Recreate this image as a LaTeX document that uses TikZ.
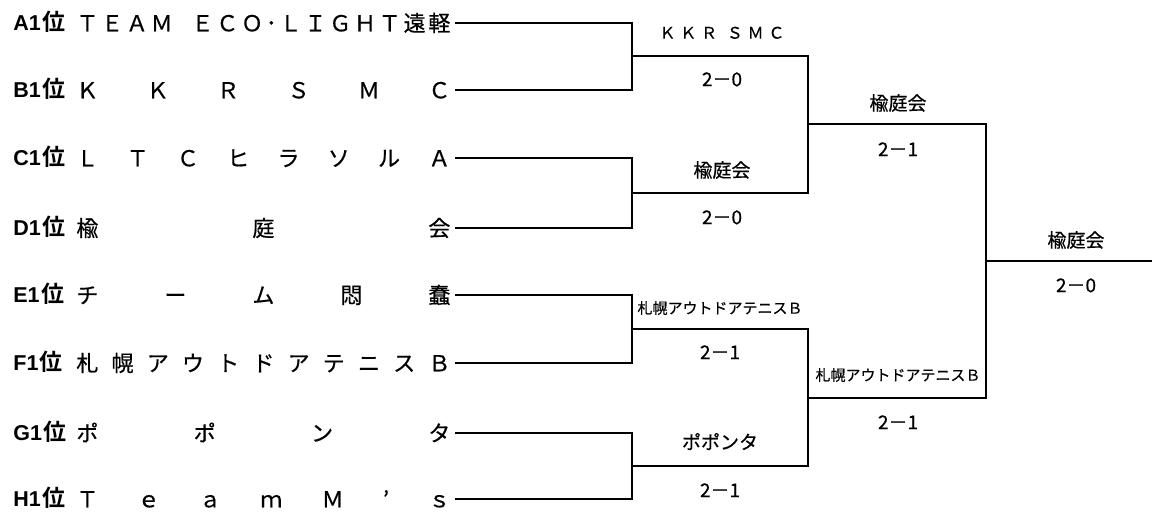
\documentclass[tikz,border=0pt]{standalone}
\usepackage{fontspec}
\newfontfamily\jp{Noto Sans CJK JP}[FakeBold=0.5]
\newfontfamily\jpb{Noto Sans CJK JP Bold}
\newfontfamily\lat{Liberation Sans}
\newcommand{\tname}[1]{\makebox[374pt][s]{#1}}
\newcommand{\seedlbl}[1]{{\lat\bfseries\fontsize{21.5}{26}\selectfont #1}\hspace{1.5pt}{\fontsize{23}{27}\selectfont 位}}

\begin{document}
\begin{tikzpicture}
	[x=1pt, y=-1pt, line width=2.8pt,
	 seed/.style = {anchor=west, inner sep=0pt, font=\jpb\fontsize{20}{24}\selectfont, text height=17.6pt, text depth=2.4pt},
	 team/.style = {anchor=west, inner xsep=3pt, inner ysep=0pt, font=\jp\fontsize{22}{26}\selectfont, text height=19.3pt, text depth=2.7pt},
	 res/.style = {inner sep=0pt, font=\jp\fontsize{19}{23}\selectfont, text height=16.7pt, text depth=2.3pt},
	 ressmall/.style = {inner sep=0pt, font=\jp\fontsize{15}{18}\selectfont, text height=13.2pt, text depth=1.8pt}]
	\useasboundingbox (0,0) rectangle (1152,513);
	% seeds
	\node[seed] (sa) at (12,23) {\seedlbl{A1}};
	\node[seed] (sb) at (12,90) {\seedlbl{B1}};
	\node[seed] (sc) at (12,158) {\seedlbl{C1}};
	\node[seed] (sd) at (12,228) {\seedlbl{D1}};
	\node[seed] (se) at (12,295) {\seedlbl{E1}};
	\node[seed] (sf) at (12,363) {\seedlbl{F1}};
	\node[seed] (sg) at (12,433) {\seedlbl{G1}};
	\node[seed] (sh) at (12,499) {\seedlbl{H1}};
	% teams
	\node[team] (a) at (72,23) {\tname{Ｔ\hfill Ｅ\hfill Ａ\hfill Ｍ\hspace{16pt}\hfill Ｅ\hfill Ｃ\hfill Ｏ\hfill ･\hfill Ｌ\hfill Ｉ\hfill Ｇ\hfill Ｈ\hfill Ｔ\hfill 遠\hfill 軽}};
	\node[team] (b) at (72,90) {\tname{Ｋ\hfill Ｋ\hfill Ｒ\hfill Ｓ\hfill Ｍ\hfill Ｃ}};
	\node[team] (c) at (72,158) {\tname{Ｌ\hfill Ｔ\hfill Ｃ\hfill ヒ\hfill ラ\hfill ソ\hfill ル\hfill Ａ}};
	\node[team] (d) at (72,228) {\tname{楡\hfill 庭\hfill 会}};
	\node[team] (e) at (72,295) {\tname{チ\hfill ー\hfill ム\hfill 悶\hfill 蠢}};
	\node[team] (f) at (72,363) {\tname{札\hfill 幌\hfill ア\hfill ウ\hfill ト\hfill ド\hfill ア\hfill テ\hfill ニ\hfill ス\hfill Ｂ}};
	\node[team] (g) at (72,433) {\tname{ポ\hfill ポ\hfill ン\hfill タ}};
	\node[team] (h) at (72,499) {\tname{Ｔ\hfill ｅ\hfill ａ\hfill ｍ\hfill Ｍ\hfill ’\hfill ｓ}};
	% junctions
	\coordinate (ab) at (632,56);
	\coordinate (cd) at (632,193);
	\coordinate (ef) at (632,329);
	\coordinate (gh) at (632,466);
	\coordinate (abcd) at (808,124);
	\coordinate (efgh) at (808,398);
	\coordinate (fin) at (986,261);
	\coordinate (champ) at (1152,261);
	% bracket
	\draw (a.east) -| (ab) |- (b.east);
	\draw (c.east) -| (cd) |- (d.east);
	\draw (e.east) -| (ef) |- (f.east);
	\draw (g.east) -| (gh) |- (h.east);
	\draw (ab) -| (abcd) |- (cd);
	\draw (ef) -| (efgh) |- (gh);
	\draw (abcd) -| (fin) |- (efgh);
	\draw (fin) -- (champ);
	% results
	\node[ressmall, font=\jp\fontsize{16}{19}\selectfont] (wab) at (722,33) {\makebox[125pt][s]{Ｋ\hfill Ｋ\hfill Ｒ\hfill\hfill Ｓ\hfill Ｍ\hfill Ｃ}};
	\node[res] (pab) at (722,79) {2－0};
	\node[res] (wcd) at (722,170) {楡庭会};
	\node[res] (pcd) at (722,217) {2－0};
	\node[ressmall] (wef) at (720,308) {札幌アウトドアテニスＢ};
	\node[res] (pef) at (720,352) {2－1};
	\node[res] (wgh) at (720,442) {ポポンタ};
	\node[res] (pgh) at (720,490) {2－1};
	\node[res] (wabcd) at (898,103) {楡庭会};
	\node[res] (pabcd) at (898,149) {2－1};
	\node[ressmall] (wefgh) at (898,375) {札幌アウトドアテニスＢ};
	\node[res] (pefgh) at (898,422) {2－1};
	\node[res] (wfin) at (1076,240) {楡庭会};
	\node[res] (pfin) at (1076,285) {2－0};
\end{tikzpicture}
\end{document}
